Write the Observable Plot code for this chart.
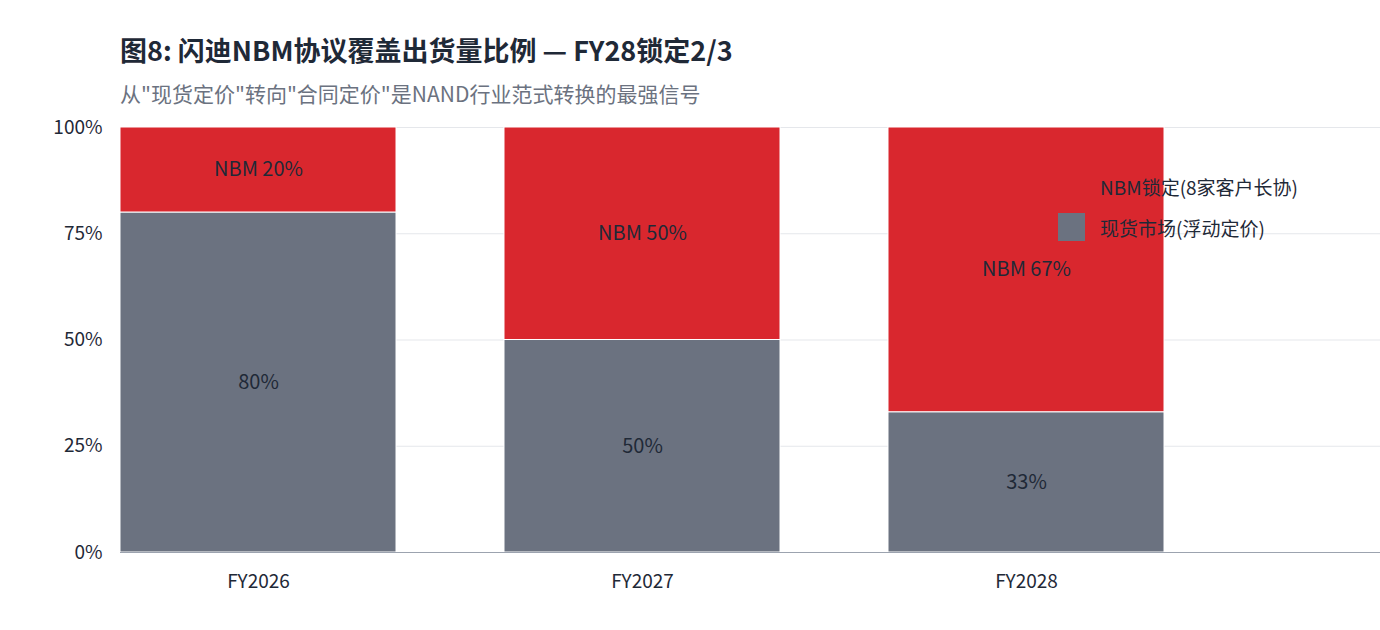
<!DOCTYPE html>
<html><head><meta charset="utf-8">
<script src="https://cdn.jsdelivr.net/npm/d3@7"></script>
<script src="https://cdn.jsdelivr.net/npm/@observablehq/plot@0.6"></script>
<style>
body{margin:0;background:#fff;font-family:"Noto Sans CJK SC","Noto Sans",sans-serif;}
#wrap{position:relative;width:1380px;height:630px;}
#title{position:absolute;left:120px;top:30px;font-size:27px;font-weight:bold;color:#1f2937;}
#sub{position:absolute;left:120px;top:78px;font-size:21px;color:#6b7280;}
#chart{position:absolute;left:0;top:110px;}
.lg{position:absolute;left:1058px;font-size:19px;color:#1f2937;display:flex;align-items:center;}
.sw{width:27px;height:28px;margin-right:15px;}
</style></head><body>
<div id="wrap">
<div id="title">图8: 闪迪NBM协议覆盖出货量比例 — FY28锁定2/3</div>
<div id="sub">从"现货定价"转向"合同定价"是NAND行业范式转换的最强信号</div>
<div id="chart"></div>
<div class="lg" style="top:172px"><div class="sw" style="background:#d9272e"></div>NBM锁定(8家客户长协)</div>
<div class="lg" style="top:213px"><div class="sw" style="background:#6b7280"></div>现货市场(浮动定价)</div>
</div>
<script>
const years=["FY2026","FY2027","FY2028"];
const spot=[80,50,33];
const nbm=[20,50,67];
const seriesNames=["现货市场(浮动定价)","NBM锁定(8家客户长协)"];
const yTicks=[0,25,50,75,100];
const rows=[];
years.forEach((y,i)=>{
  rows.push({year:y,s:seriesNames[0],y1:0,y2:spot[i],label:spot[i]+"%"});
  rows.push({year:y,s:seriesNames[1],y1:spot[i],y2:spot[i]+nbm[i],label:"NBM "+nbm[i]+"%"});
});
const chart=Plot.plot({
  width:1380,height:520,marginLeft:120,marginRight:0,marginTop:17,marginBottom:78,
  style:{fontFamily:"'Noto Sans CJK SC','Noto Sans',sans-serif",fontSize:"19px",color:"#1f2937"},
  x:{domain:years,range:[120,1164.5],paddingInner:0.28,paddingOuter:0,align:0,label:null,tickSize:0,tickPadding:22},
  y:{domain:[0,100],ticks:yTicks,tickFormat:d=>d+"%",label:null,tickSize:0,tickPadding:18},
  color:{domain:seriesNames,range:["#6b7280","#d9272e"]},
  marks:[
    Plot.gridY(yTicks,{stroke:"#e5e7eb",strokeOpacity:1}),
    Plot.rectY(rows,{x:"year",y1:"y1",y2:"y2",fill:"s",stroke:"#fff",strokeWidth:1}),
    Plot.text(rows,{x:"year",y:d=>(d.y1+d.y2)/2,text:"label",fill:"#1f2937",fontSize:20}),
    Plot.ruleY([0],{stroke:"#9ca3af"}),
    Plot.ruleX([years[0]],{x:()=>0,stroke:"#9ca3af"})
  ]
});
document.getElementById("chart").appendChild(chart);
</script></body></html>
